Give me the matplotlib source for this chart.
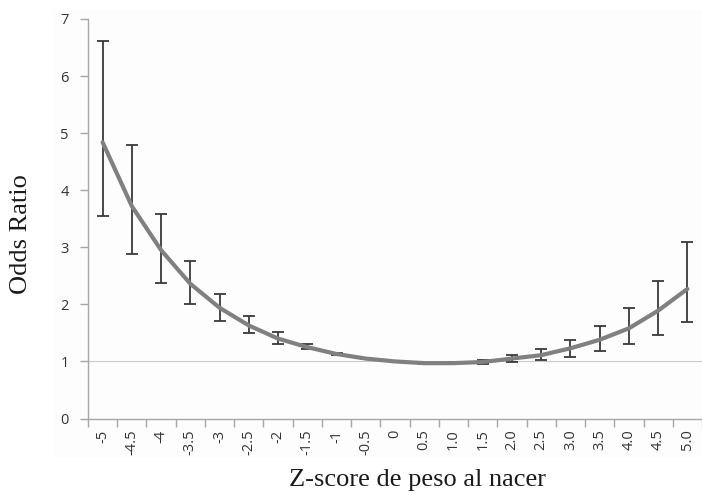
import matplotlib.pyplot as plt
from matplotlib.patches import Rectangle

# Odds ratio by birth-weight z-score, with 95% confidence intervals
z_labels = ['-5', '-4.5', '-4', '-3.5', '-3', '-2.5', '-2', '-1.5', '-1', '-0.5', '0',
            '0.5', '1.0', '1.5', '2.0', '2.5', '3.0', '3.5', '4.0', '4.5', '5.0']
odds = [4.84, 3.72, 2.95, 2.36, 1.94, 1.63, 1.40, 1.25, 1.13, 1.05, 1.00,
        0.97, 0.97, 0.99, 1.05, 1.11, 1.23, 1.38, 1.58, 1.89, 2.27]
ci_low = [3.54, 2.88, 2.37, 2.00, 1.71, 1.49, 1.31, 1.21, 1.11, 1.04, 1.00,
          0.96, 0.95, 0.96, 0.99, 1.02, 1.08, 1.19, 1.30, 1.47, 1.69]
ci_high = [6.61, 4.80, 3.59, 2.76, 2.19, 1.79, 1.51, 1.30, 1.15, 1.06, 1.00,
           0.98, 0.99, 1.03, 1.11, 1.22, 1.38, 1.62, 1.94, 2.41, 3.09]

x = list(range(len(z_labels)))
err_lo = [o - l for o, l in zip(odds, ci_low)]
err_hi = [h - o for o, h in zip(odds, ci_high)]

fig = plt.figure(figsize=(7.02, 4.93), dpi=100)
fig.patch.set_facecolor('white')
# faint chart-area background
fig.patches.append(Rectangle((53 / 702, 35 / 493), 1, 448 / 493, transform=fig.transFigure,
                             facecolor='#fdfdfd', edgecolor='none', zorder=-5))

ax = fig.add_axes([88 / 702, 74.5 / 493, 614 / 702, 399.5 / 493])
ax.set_facecolor('none')

ax.axhline(1, color='#c8c8c8', lw=0.8, zorder=1)

ax.errorbar(x, odds, yerr=[err_lo, err_hi], fmt='none', ecolor='#3a3a3a',
            elinewidth=1.3, capsize=4.2, capthick=1.3, zorder=2)
ax.plot(x, odds, color='#808080', lw=3, solid_joinstyle='round',
        solid_capstyle='round', zorder=3)

ax.set_xlim(-0.5, -0.5 + 614 / 29.5)
ax.set_ylim(0, 7)

tick_font = ['Open Sans', 'DejaVu Sans']
ax.set_xticks(x)
ax.set_xticklabels(z_labels, rotation=90, fontsize=10.5, color='#333333', family=tick_font)
ax.set_xticks([i - 0.5 for i in range(len(z_labels) + 1)], minor=True)
ax.tick_params(axis='x', which='major', length=0, pad=8)
ax.tick_params(axis='x', which='minor', length=6, color='#a6a6a6', width=1)

ax.set_yticks(range(8))
ax.set_yticklabels([str(v) for v in range(8)], fontsize=10.5, color='#333333', family=tick_font)
ax.tick_params(axis='y', length=6, color='#a6a6a6', width=1, pad=8)

for side in ['top', 'right']:
    ax.spines[side].set_visible(False)
for side in ['left', 'bottom']:
    ax.spines[side].set_color('#a6a6a6')
    ax.spines[side].set_linewidth(1)

fig.text(21 / 702, 1 - 234 / 493, 'Odds Ratio', rotation=90, ha='center', va='center',
         fontsize=19, family='Liberation Serif', color='#1a1a1a')
fig.text(417.5 / 702, 1 - 486 / 493, 'Z-score de peso al nacer', ha='center', va='baseline',
         fontsize=19, family='Liberation Serif', color='#1a1a1a')

fig.savefig('out.png', dpi=100)
